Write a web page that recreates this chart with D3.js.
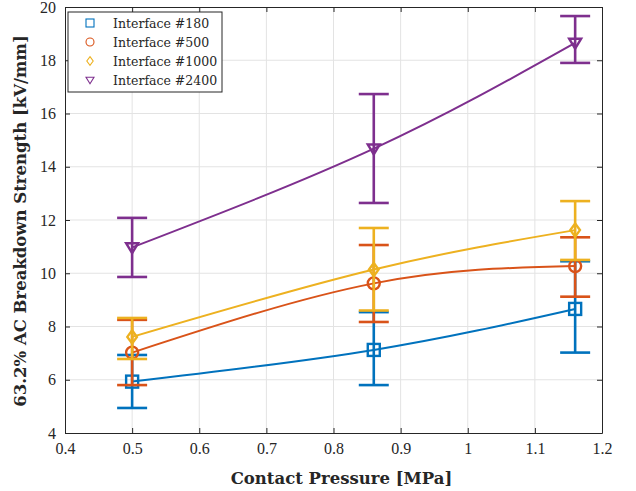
<!DOCTYPE html>
<html>
<head>
<meta charset="utf-8">
<script src="https://cdn.jsdelivr.net/npm/d3@7"></script>
<style>
  body { margin: 0; background: #fff; }
  text { font-family: "Liberation Serif", "DejaVu Serif", serif; }
</style>
</head>
<body>
<div id="chart"></div>
<script>
// contact pressure [MPa]
var pressure = [0.5, 0.86, 1.16];

// 63.2% breakdown strength and error bar ends [kV/mm]
var s180  = [5.93, 7.12, 8.66],  s180Lo  = [4.94, 5.80, 7.02],  s180Hi  = [6.93, 8.54, 10.45];
var s500  = [7.02, 9.62, 10.27], s500Lo  = [5.80, 8.17, 9.12],  s500Hi  = [8.25, 11.06, 11.35];
var s1000 = [7.61, 10.14, 11.62], s1000Lo = [6.78, 8.60, 10.50], s1000Hi = [8.32, 11.70, 12.71];
var s2400 = [10.97, 14.68, 18.65], s2400Lo = [9.86, 12.64, 17.90], s2400Hi = [12.08, 16.73, 19.66];

var seriesNames = ["Interface #180", "Interface #500", "Interface #1000", "Interface #2400"];
var xTicks = [0.4, 0.5, 0.6, 0.7, 0.8, 0.9, 1, 1.1, 1.2];
var yTicks = [4, 6, 8, 10, 12, 14, 16, 18, 20];

var colors = ["#0072BD", "#D95319", "#EDB120", "#7E2F8E"];
var shapes = ["square", "circle", "diamond", "triangle"];

var series = [
  { name: seriesNames[0], y: s180, lo: s180Lo, hi: s180Hi },
  { name: seriesNames[1], y: s500, lo: s500Lo, hi: s500Hi },
  { name: seriesNames[2], y: s1000, lo: s1000Lo, hi: s1000Hi },
  { name: seriesNames[3], y: s2400, lo: s2400Lo, hi: s2400Hi }
];

var margin = { top: 7, right: 34, bottom: 58, left: 65 },
    width = 636 - margin.left - margin.right,
    height = 491 - margin.top - margin.bottom;

var x = d3.scaleLinear().domain([0.4, 1.2]).range([0, width]);
var y = d3.scaleLinear().domain([4, 20]).range([height, 0]);

var svg = d3.select("#chart").append("svg")
  .attr("width", 636).attr("height", 491);

var g = svg.append("g")
  .attr("transform", "translate(" + margin.left + "," + margin.top + ")");

// grid
g.append("g").selectAll("line").data(xTicks.slice(1, -1)).enter().append("line")
  .attr("x1", function (d) { return x(d); }).attr("x2", function (d) { return x(d); })
  .attr("y1", 0).attr("y2", height)
  .attr("stroke", "#e3e3e3").attr("stroke-width", 1);
g.append("g").selectAll("line").data(yTicks.slice(1, -1)).enter().append("line")
  .attr("y1", function (d) { return y(d); }).attr("y2", function (d) { return y(d); })
  .attr("x1", 0).attr("x2", width)
  .attr("stroke", "#e3e3e3").attr("stroke-width", 1);

// axes, ticks inside like matlab
var fmt = function (d) { return String(d); };
var xAxis = g.append("g").attr("transform", "translate(0," + height + ")")
  .call(d3.axisBottom(x).tickValues(xTicks).tickFormat(fmt).tickSizeInner(-5).tickSizeOuter(0).tickPadding(10));
var xTop = g.append("g")
  .call(d3.axisTop(x).tickValues(xTicks).tickFormat("").tickSizeInner(-5).tickSizeOuter(0));
var yAxis = g.append("g")
  .call(d3.axisLeft(y).tickValues(yTicks).tickFormat(fmt).tickSizeInner(-5).tickSizeOuter(0).tickPadding(9));
var yRight = g.append("g").attr("transform", "translate(" + width + ",0)")
  .call(d3.axisRight(y).tickValues(yTicks).tickFormat("").tickSizeInner(-5).tickSizeOuter(0));

[xAxis, xTop, yAxis, yRight].forEach(function (a) {
  a.select(".domain").attr("stroke", "#262626");
  a.selectAll(".tick line").attr("stroke", "#262626");
  a.selectAll("text").attr("fill", "#262626").style("font-size", "16px")
    .style("font-family", "'Liberation Serif', serif");
});

var line = d3.line()
  .x(function (d) { return x(d[0]); })
  .y(function (d) { return y(d[1]); })
  .curve(d3.curveNatural);

function drawMarker(sel, shape, size, color, sw) {
  var h = size / 2;
  if (shape === "square") {
    sel.append("rect").attr("x", -h).attr("y", -h).attr("width", size).attr("height", size);
  } else if (shape === "circle") {
    sel.append("circle").attr("r", h);
  } else if (shape === "diamond") {
    sel.append("path").attr("d", "M0," + (-h * 1.1) + "L" + h * 0.8 + ",0L0," + h * 1.1 + "L" + (-h * 0.8) + ",0Z");
  } else {
    sel.append("path").attr("d", "M" + (-h) + "," + (-h * 0.7) + "L" + h + "," + (-h * 0.7) + "L0," + h * 0.95 + "Z");
  }
  sel.selectAll("*").attr("fill", "none").attr("stroke", color).attr("stroke-width", sw);
}

series.forEach(function (s, i) {
  var pts = pressure.map(function (p, j) { return [p, s.y[j]]; });
  g.append("path").datum(pts)
    .attr("d", line)
    .attr("fill", "none")
    .attr("stroke", colors[i])
    .attr("stroke-width", 2);

  var eb = g.append("g").attr("class", "errbar");
  pressure.forEach(function (p, j) {
    var cx = x(p);
    eb.append("line").attr("x1", cx).attr("x2", cx)
      .attr("y1", y(s.lo[j])).attr("y2", y(s.hi[j]));
    [s.lo[j], s.hi[j]].forEach(function (v) {
      eb.append("line").attr("x1", cx - 15).attr("x2", cx + 15)
        .attr("y1", y(v)).attr("y2", y(v));
    });
    var m = g.append("g").attr("transform", "translate(" + cx + "," + y(s.y[j]) + ")");
    drawMarker(m, shapes[i], 12, colors[i], 2.4);
  });
  eb.selectAll("line").attr("stroke", colors[i]).attr("stroke-width", 2.6);
});

// legend
var leg = g.append("g").attr("transform", "translate(3,5)");
leg.append("rect").attr("width", 154).attr("height", 80)
  .attr("fill", "#fff").attr("stroke", "#262626").attr("stroke-width", 1);
series.forEach(function (s, i) {
  var row = leg.append("g").attr("transform", "translate(0," + (11 + i * 19) + ")");
  var m = row.append("g").attr("transform", "translate(22,0)");
  drawMarker(m, shapes[i], 8, colors[i], 1.1);
  row.append("text").attr("x", 45).attr("y", 5)
    .attr("fill", "#262626").style("font-size", "12.5px")
    .style("font-family", "'DejaVu Serif', serif")
    .text(s.name);
});

// axis titles
svg.append("text")
  .attr("x", margin.left + width / 2 + 8).attr("y", 484)
  .attr("text-anchor", "middle")
  .attr("fill", "#262626").style("font-size", "16.5px").style("font-weight", "bold")
  .style("font-family", "'DejaVu Serif', serif")
  .text("Contact Pressure [MPa]");

svg.append("text")
  .attr("transform", "translate(26," + (margin.top + 214) + ") rotate(-90)")
  .attr("text-anchor", "middle")
  .attr("fill", "#262626").style("font-size", "16.5px").style("font-weight", "bold")
  .style("font-family", "'DejaVu Serif', serif")
  .text("63.2% AC Breakdown Strength [kV/mm]");
</script>
</body>
</html>
